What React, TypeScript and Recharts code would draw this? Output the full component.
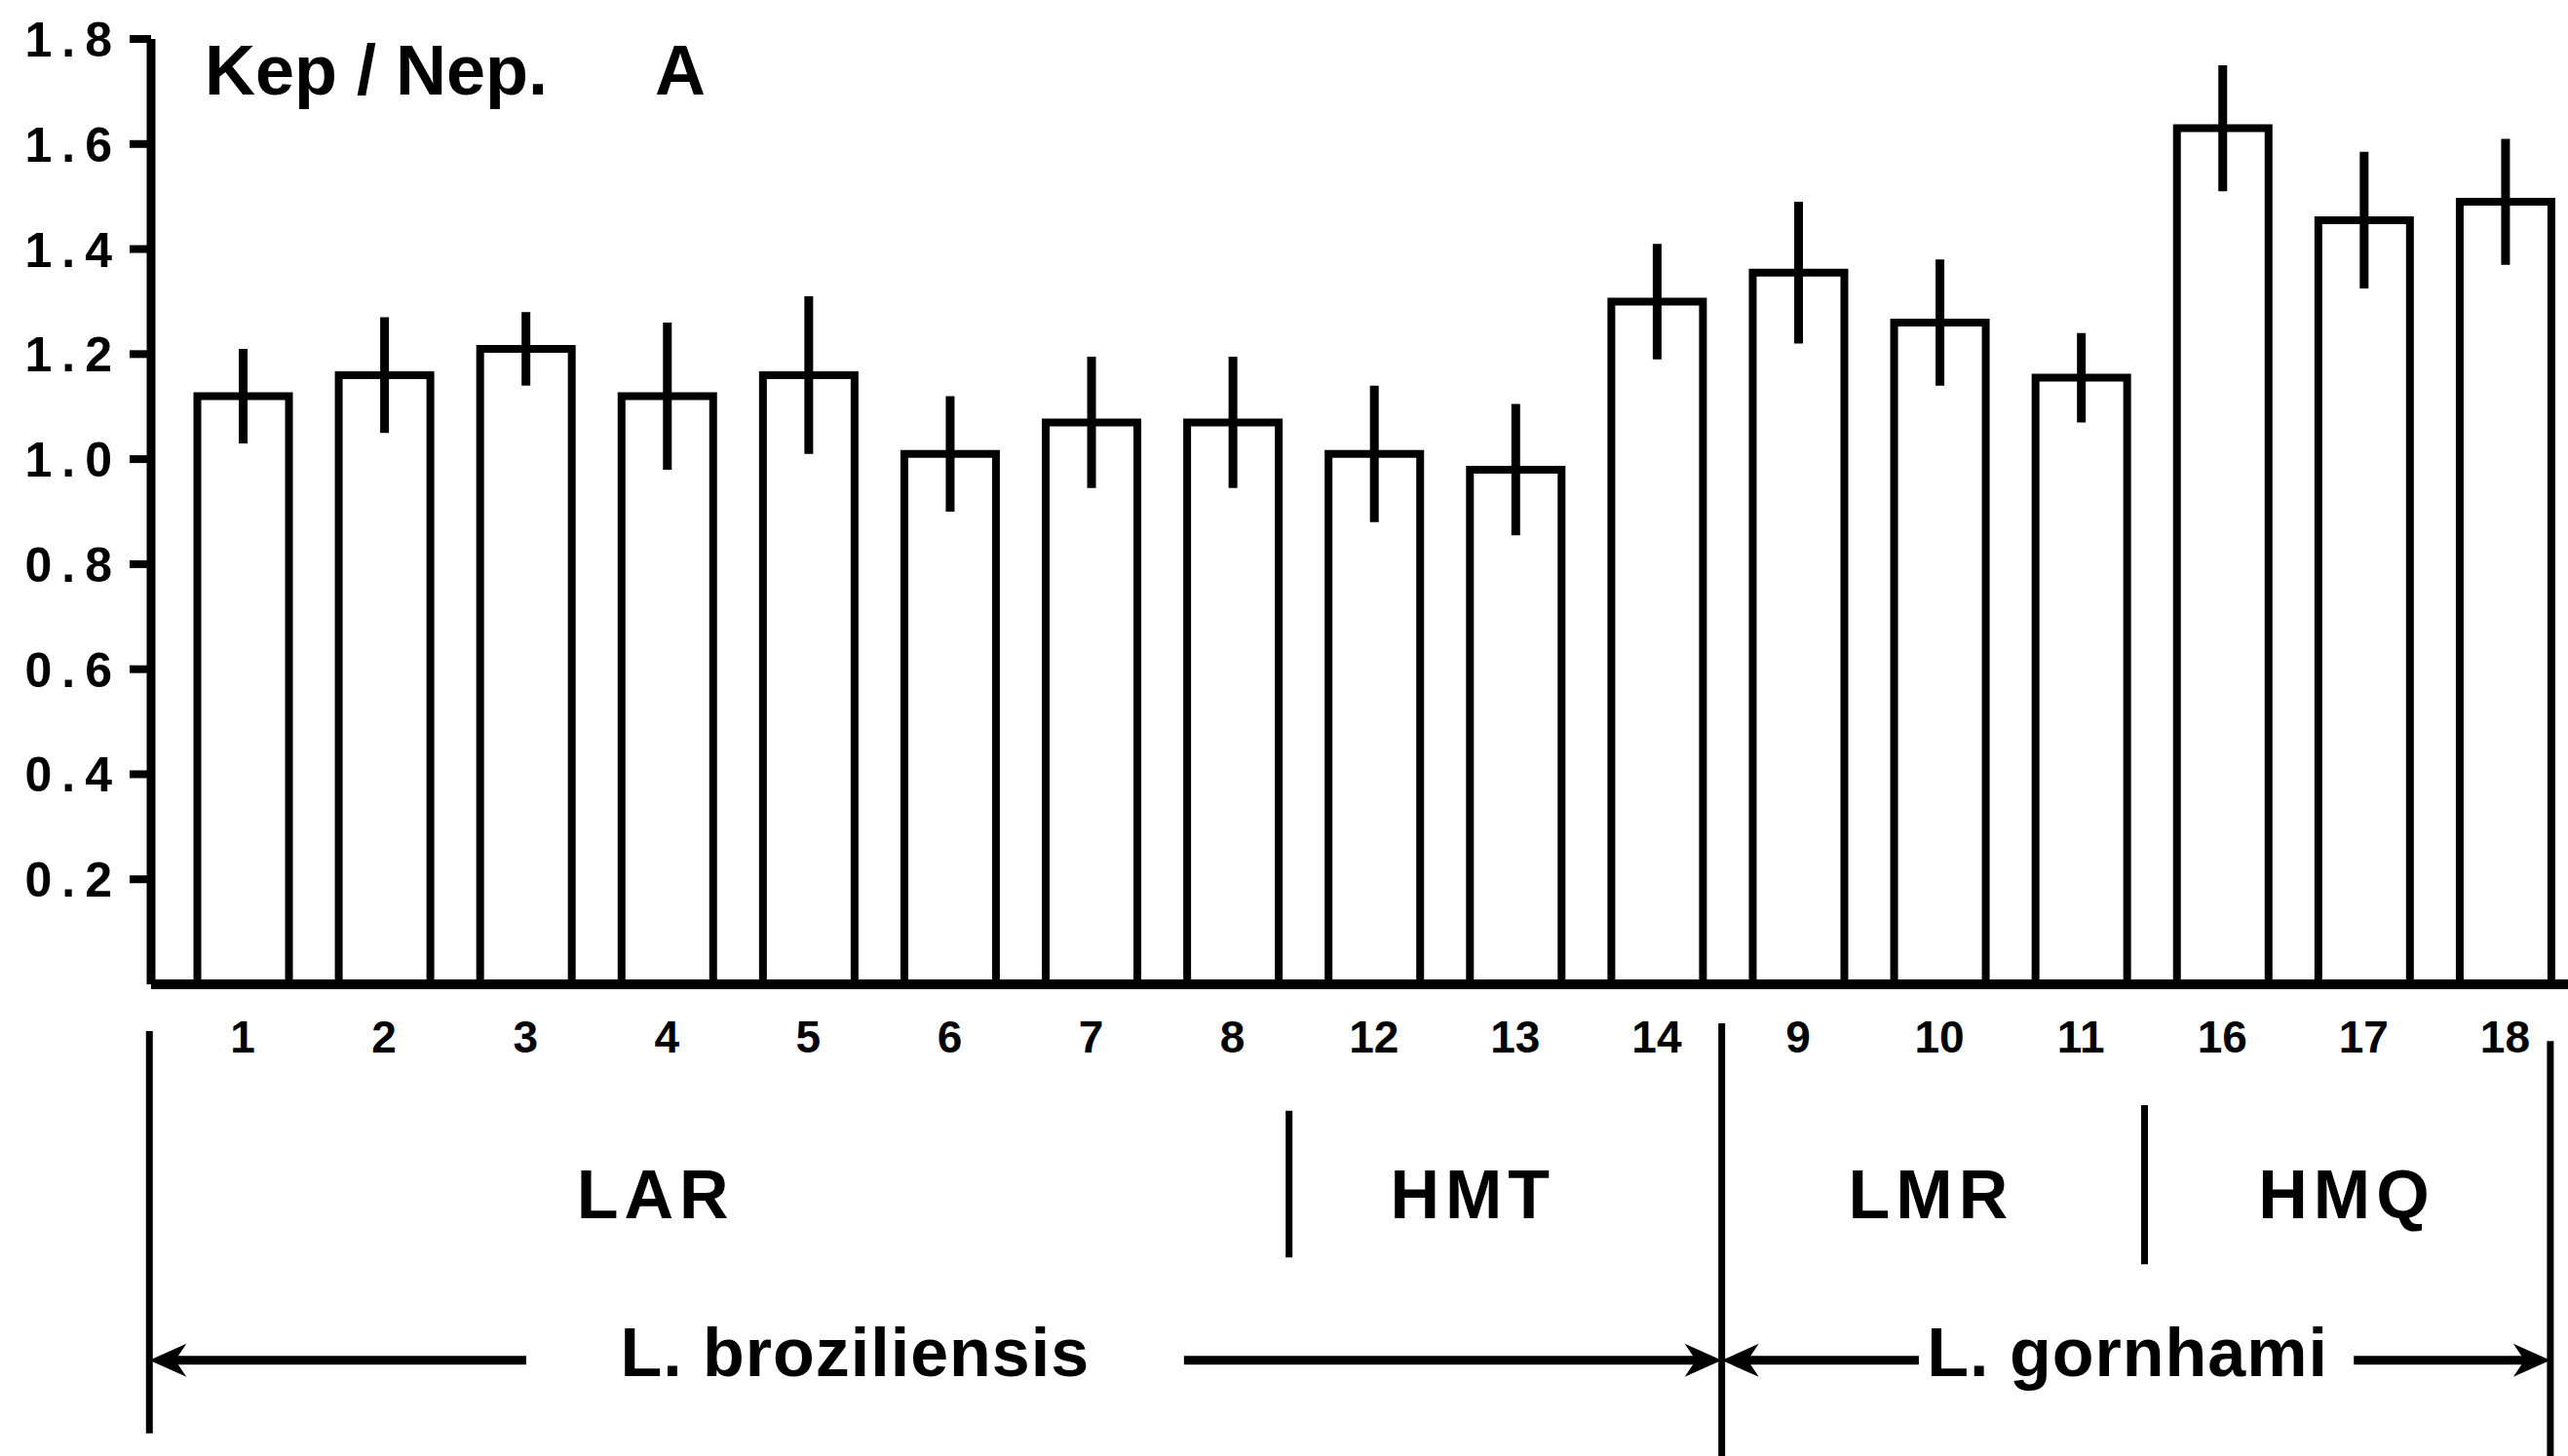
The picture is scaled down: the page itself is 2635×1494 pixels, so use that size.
import React from 'react';
import { BarChart, Bar, XAxis, YAxis, ErrorBar, ReferenceLine, ReferenceDot } from 'recharts';

// ---- data ----
const categories = ['1', '2', '3', '4', '5', '6', '7', '8', '12', '13', '14', '9', '10', '11', '16', '17', '18'];
const ratios = [1.12, 1.16, 1.21, 1.12, 1.16, 1.01, 1.07, 1.07, 1.01, 0.98, 1.3, 1.355, 1.26, 1.155, 1.63, 1.455, 1.49];
const sems = [0.09, 0.11, 0.07, 0.14, 0.15, 0.11, 0.125, 0.125, 0.13, 0.125, 0.11, 0.135, 0.12, 0.085, 0.12, 0.13, 0.12];
const yTicks = [0.2, 0.4, 0.6, 0.8, 1.0, 1.2, 1.4, 1.6, 1.8];

// annotation rows (x in category units, y in data units below the axis)
const groupLabels = ['LAR', 'HMT', 'LMR', 'HMQ'];
const groupLabelX = [3.42, 9.2, 12.44, 15.38];
const groupLabelY = -0.445;
const speciesLabels = ['L. broziliensis', 'L. gornhami'];
const speciesLabelX = [4.83, 13.83];
const speciesLabelY = -0.746;
const bracketX = [-0.16, 10.96, 16.82];
const bracketTop = [-0.089, -0.074, -0.108];
const bracketBottom = [-0.855, -0.95, -0.95];
const subSepX = [7.9, 13.95];
const subSepTop = [-0.241, -0.23];
const subSepBottom = [-0.52, -0.533];
const arrowFrom = [2.505, 7.157, 12.354, 15.43];
const arrowTo = [-0.16, 10.96, 10.96, 16.82];
const arrowY = -0.716;
const titleMain = 'Kep / Nep.';
const titlePanel = 'A';
const titleX = [0.231, 3.415];
const titleY = 1.694;

const data = categories.map((c, i) => ({ cat: c, ratio: ratios[i], sem: sems[i], idx: i }));

const FONT = "'Liberation Sans', Arial, sans-serif";

const XTick = (p: any) => (
  <text x={p.x} y={p.y} dy={70} textAnchor="middle" fontFamily={FONT} fontWeight="bold" fontSize={46} fill="#000">
    {p.payload.value}
  </text>
);

const YTick = (p: any) => (
  <text x={p.x} y={p.y} dy={18} textAnchor="end" fontFamily={FONT} fontWeight="bold" fontSize={50} letterSpacing={10} fill="#000">
    {Number(p.payload.value).toFixed(1)}
  </text>
);

const ArrowShape = (p: any) => {
  const { x1, y1, x2, y2 } = p;
  const dir = x2 > x1 ? 1 : -1;
  const L = 38;
  const H = 17;
  return (
    <g>
      <line x1={x1} y1={y1} x2={x2 - dir * L * 0.6} y2={y2} stroke="#000" strokeWidth={9} />
      <polygon
        points={`${x2},${y2} ${x2 - dir * L},${y2 - H} ${x2 - dir * L * 0.7},${y2} ${x2 - dir * L},${y2 + H}`}
        fill="#000"
      />
    </g>
  );
};

const makeText = (label: string, size: number, anchor: string, spacing: number) => (p: any) => (
  <text
    x={p.cx}
    y={p.cy}
    textAnchor={anchor}
    fontFamily={FONT}
    fontWeight="bold"
    fontSize={size}
    letterSpacing={spacing}
    fill="#000"
  >
    {label}
  </text>
);

export default function App() {
  return (
    <div style={{ position: 'absolute', left: 0, top: 0, width: 2635, height: 1494, overflow: 'hidden', background: '#fff' }}>
      <BarChart
        width={2643}
        height={1494}
        data={data}
        margin={{ top: 40, right: 0, bottom: 424, left: 0 }}
        barCategoryGap={0}
      >
        <XAxis
          dataKey="cat"
          height={60}
          interval={0}
          padding={{ left: 21.5, right: 0 }}
          axisLine={{ stroke: '#000', strokeWidth: 10 }}
          tickLine={false}
          tickSize={0}
          tickMargin={0}
          tick={<XTick />}
        />
        <XAxis
          xAxisId="num"
          dataKey="idx"
          type="number"
          domain={[0, 17]}
          allowDataOverflow
          hide
          padding={{ left: 21.5, right: 0 }}
        />
        <YAxis
          width={155}
          domain={[0, 1.8]}
          ticks={yTicks}
          interval={0}
          allowDataOverflow
          axisLine={{ stroke: '#000', strokeWidth: 9 }}
          tickLine={{ stroke: '#000', strokeWidth: 8 }}
          tickSize={22}
          tickMargin={8}
          tick={<YTick />}
        />
        <Bar dataKey="ratio" fill="#fff" stroke="#000" strokeWidth={8} barSize={94} isAnimationActive={false}>
          <ErrorBar dataKey="sem" width={0} strokeWidth={9} stroke="#000" direction="y" isAnimationActive={false} />
        </Bar>

        {bracketX.map((x, i) => (
          <ReferenceLine
            key={'b' + i}
            xAxisId="num"
            ifOverflow="visible"
            segment={[{ x, y: bracketTop[i] }, { x, y: bracketBottom[i] }]}
            stroke="#000"
            strokeWidth={7}
          />
        ))}
        {subSepX.map((x, i) => (
          <ReferenceLine
            key={'s' + i}
            xAxisId="num"
            ifOverflow="visible"
            segment={[{ x, y: subSepTop[i] }, { x, y: subSepBottom[i] }]}
            stroke="#000"
            strokeWidth={7}
          />
        ))}
        {arrowFrom.map((x, i) => (
          <ReferenceLine
            key={'a' + i}
            xAxisId="num"
            ifOverflow="visible"
            segment={[{ x, y: arrowY }, { x: arrowTo[i], y: arrowY }]}
            stroke="#000"
            strokeWidth={9}
            shape={ArrowShape}
          />
        ))}
        {groupLabels.map((t, i) => (
          <ReferenceDot
            key={'g' + i}
            xAxisId="num"
            x={groupLabelX[i]}
            y={groupLabelY}
            r={0}
            ifOverflow="visible"
            shape={makeText(t, 70, 'middle', 6)}
          />
        ))}
        {speciesLabels.map((t, i) => (
          <ReferenceDot
            key={'sp' + i}
            xAxisId="num"
            x={speciesLabelX[i]}
            y={speciesLabelY}
            r={0}
            ifOverflow="visible"
            shape={makeText(t, 70, 'middle', 1)}
          />
        ))}
        <ReferenceDot
          xAxisId="num"
          x={titleX[0]}
          y={titleY}
          r={0}
          ifOverflow="visible"
          shape={makeText(titleMain, 72, 'start', 0)}
        />
        <ReferenceDot
          xAxisId="num"
          x={titleX[1]}
          y={titleY}
          r={0}
          ifOverflow="visible"
          shape={makeText(titlePanel, 72, 'start', 0)}
        />
      </BarChart>
    </div>
  );
}
